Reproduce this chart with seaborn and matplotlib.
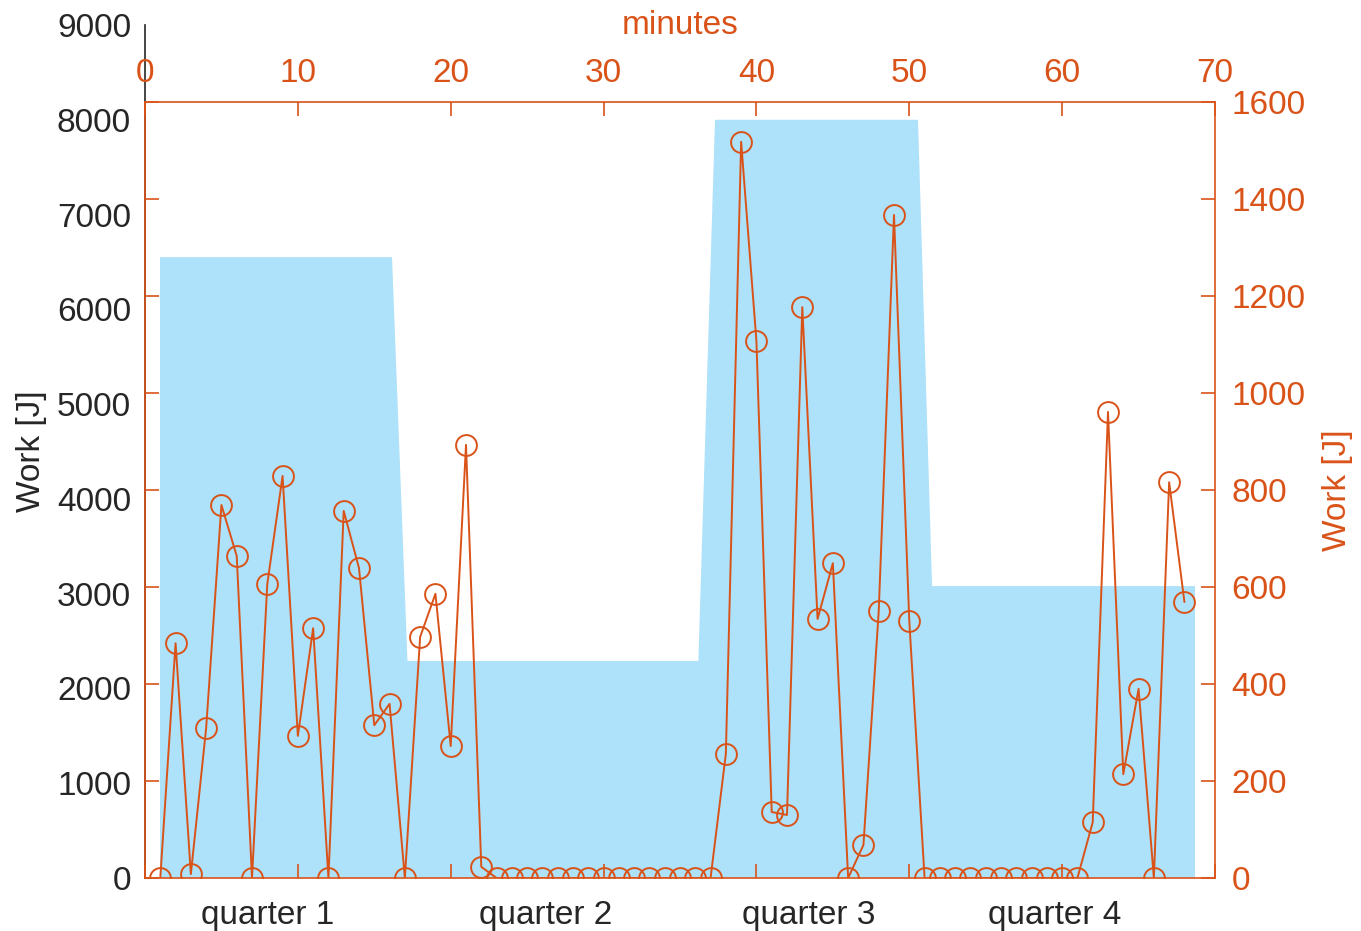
import numpy as np
import pandas as pd
import matplotlib
matplotlib.use('Agg')
import matplotlib.pyplot as plt
import seaborn as sns

# Per-minute work values (right axis)
minutes = list(range(1, 69))
work_per_minute = [0, 484, 8, 309, 769, 664, 0, 606, 829, 293,
                   515, 0, 757, 639, 315, 359, 0, 497, 586, 272,
                   893, 23, 0, 0, 0, 0, 0, 0, 0, 0,
                   0, 0, 0, 0, 0, 0, 0, 256, 1518, 1107,
                   136, 130, 1177, 534, 649, 0, 68, 550, 1367, 530,
                   0, 0, 0, 0, 0, 0, 0, 0, 0, 0,
                   0, 115, 961, 214, 390, 0, 816, 569]

# Per-quarter work (left axis), with extent in minutes
quarter_labels = ['quarter 1', 'quarter 2', 'quarter 3', 'quarter 4']
quarter_work = [6550, 2290, 8000, 3080]
quarter_start = [0.98, 17.17, 37.29, 51.49]
quarter_end = [16.16, 36.2, 50.57, 68.69]
quarter_label_pos = [8.0, 26.2, 43.4, 59.5]

orange = '#D95319'
dark = '#262626'
blue = '#AEE1FA'
fs = 24

sns.set_style('white')
plt.rcParams['font.family'] = ['Liberation Sans', 'DejaVu Sans']
plt.rcParams['font.size'] = fs

df = pd.DataFrame({'minute': minutes, 'work': work_per_minute})

fig = plt.figure(figsize=(13.61, 9.31), dpi=100)
left, bottom, width = 145 / 1361, 1 - 878 / 931, (1215 - 145) / 1361
ax1 = fig.add_axes([left, bottom, width, (878 - 25) / 931])
ax2 = fig.add_axes([left, bottom, width, (878 - 102) / 931])

# quarter area (trapezoid steps between quarters)
xs, ys = [quarter_start[0]], [0]
for s, e, w in zip(quarter_start, quarter_end, quarter_work):
    xs += [s, e]
    ys += [w, w]
xs.append(quarter_end[-1])
ys.append(0)
ax1.fill(xs, ys, color=blue, lw=0, zorder=1)
ax1.set_xlim(0, 70)
ax1.set_ylim(0, 9000)
ax1.set_yticks(range(0, 9001, 1000))
ax1.set_xticks(quarter_label_pos)
ax1.set_xticklabels(quarter_labels)
ax1.tick_params(axis='x', length=0, pad=16, colors=dark, labelsize=fs)
ax1.tick_params(axis='y', direction='in', length=10, width=1.2, pad=10,
                colors=dark, labelsize=fs)
for side in ['top', 'right', 'bottom']:
    ax1.spines[side].set_visible(False)
ax1.spines['left'].set_color(dark)
ax1.spines['left'].set_linewidth(1.2)
ax1.set_ylabel('Work [J]', color=dark, fontsize=fs, labelpad=7)

# per-minute series
ax2.patch.set_alpha(0)
sns.lineplot(data=df, x='minute', y='work', ax=ax2, color=orange, lw=1.4,
             marker='o', markersize=15, markerfacecolor='none',
             markeredgecolor=orange, markeredgewidth=1.4, zorder=3)
ax2.set_xlim(0, 70)
ax2.set_ylim(0, 1600)
ax2.set_xticks(range(0, 71, 10))
ax2.set_yticks(range(0, 1601, 200))
ax2.xaxis.tick_top()
ax2.xaxis.set_label_position('top')
ax2.yaxis.tick_right()
ax2.yaxis.set_label_position('right')
ax2.tick_params(axis='both', which='both', direction='in', length=10, width=1.2,
                colors=orange, labelsize=fs, top=True, bottom=True,
                left=True, right=True)
ax2.tick_params(axis='x', pad=9)
ax2.tick_params(axis='y', pad=12)
for side in ax2.spines:
    ax2.spines[side].set_visible(True)
    ax2.spines[side].set_color(orange)
    ax2.spines[side].set_linewidth(1.2)
ax2.set_xlabel('minutes', color=orange, fontsize=fs, labelpad=18)
ax2.set_ylabel('Work [J]', color=orange, fontsize=fs, labelpad=12)

fig.savefig('out.png', dpi=100)
